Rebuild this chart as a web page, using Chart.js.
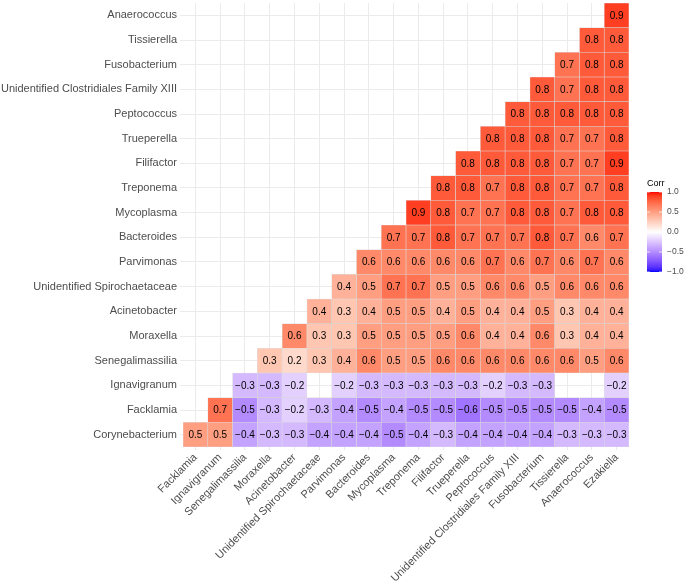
<!DOCTYPE html>
<html>
<head>
<meta charset="utf-8">
<script src="https://cdn.jsdelivr.net/npm/chart.js@4.4.0/dist/chart.umd.min.js"></script>
<style>
  html, body { margin: 0; padding: 0; background: #ffffff; }
  #wrap { width: 684px; height: 584px; }
</style>
</head>
<body>
<div id="wrap"><canvas id="corr_chart" width="684" height="584"></canvas></div>
<script>
// columns (x axis), left to right
const xLabels = ["Facklamia", "Ignavigranum", "Senegalimassilia", "Moraxella", "Acinetobacter",
  "Unidentified Spirochaetaceae", "Parvimonas", "Bacteroides", "Mycoplasma", "Treponema",
  "Filifactor", "Trueperella", "Peptococcus", "Unidentified Clostridiales Family XIII",
  "Fusobacterium", "Tissierella", "Anaerococcus", "Ezakiella"];

// rows (y axis), bottom to top
const yLabels = ["Corynebacterium", "Facklamia", "Ignavigranum", "Senegalimassilia", "Moraxella",
  "Acinetobacter", "Unidentified Spirochaetaceae", "Parvimonas", "Bacteroides", "Mycoplasma",
  "Treponema", "Filifactor", "Trueperella", "Peptococcus", "Unidentified Clostridiales Family XIII",
  "Fusobacterium", "Tissierella", "Anaerococcus"];

const n = null;
// one array per row, one entry per column (null = no tile)
const corynebacterium = [0.5, 0.5, -0.4, -0.3, -0.3, -0.4, -0.4, -0.4, -0.5, -0.4, -0.3, -0.4, -0.4, -0.4, -0.4, -0.3, -0.3, -0.3];
const facklamia = [n, 0.7, -0.5, -0.3, -0.2, -0.3, -0.4, -0.5, -0.4, -0.5, -0.5, -0.6, -0.5, -0.5, -0.5, -0.5, -0.4, -0.5];
const ignavigranum = [n, n, -0.3, -0.3, -0.2, n, -0.2, -0.3, -0.3, -0.3, -0.3, -0.3, -0.2, -0.3, -0.3, n, n, -0.2];
const senegalimassilia = [n, n, n, 0.3, 0.2, 0.3, 0.4, 0.6, 0.5, 0.5, 0.6, 0.6, 0.6, 0.6, 0.6, 0.6, 0.5, 0.6];
const moraxella = [n, n, n, n, 0.6, 0.3, 0.3, 0.5, 0.5, 0.5, 0.5, 0.6, 0.4, 0.4, 0.6, 0.3, 0.4, 0.4];
const acinetobacter = [n, n, n, n, n, 0.4, 0.3, 0.4, 0.5, 0.5, 0.4, 0.5, 0.4, 0.4, 0.5, 0.3, 0.4, 0.4];
const spirochaetaceae = [n, n, n, n, n, n, 0.4, 0.5, 0.7, 0.7, 0.5, 0.5, 0.6, 0.6, 0.5, 0.6, 0.6, 0.6];
const parvimonas = [n, n, n, n, n, n, n, 0.6, 0.6, 0.6, 0.6, 0.6, 0.7, 0.6, 0.7, 0.6, 0.7, 0.6];
const bacteroides = [n, n, n, n, n, n, n, n, 0.7, 0.7, 0.8, 0.7, 0.7, 0.7, 0.8, 0.7, 0.6, 0.7];
const mycoplasma = [n, n, n, n, n, n, n, n, n, 0.9, 0.8, 0.7, 0.7, 0.8, 0.8, 0.7, 0.8, 0.8];
const treponema = [n, n, n, n, n, n, n, n, n, n, 0.8, 0.8, 0.7, 0.8, 0.8, 0.7, 0.7, 0.8];
const filifactor = [n, n, n, n, n, n, n, n, n, n, n, 0.8, 0.8, 0.8, 0.8, 0.7, 0.7, 0.9];
const trueperella = [n, n, n, n, n, n, n, n, n, n, n, n, 0.8, 0.8, 0.8, 0.7, 0.7, 0.8];
const peptococcus = [n, n, n, n, n, n, n, n, n, n, n, n, n, 0.8, 0.8, 0.8, 0.8, 0.8];
const clostridialesXIII = [n, n, n, n, n, n, n, n, n, n, n, n, n, n, 0.8, 0.7, 0.8, 0.8];
const fusobacterium = [n, n, n, n, n, n, n, n, n, n, n, n, n, n, n, 0.7, 0.8, 0.8];
const tissierella = [n, n, n, n, n, n, n, n, n, n, n, n, n, n, n, n, 0.8, 0.8];
const anaerococcus = [n, n, n, n, n, n, n, n, n, n, n, n, n, n, n, n, n, 0.9];

const corrRows = [corynebacterium, facklamia, ignavigranum, senegalimassilia, moraxella,
  acinetobacter, spirochaetaceae, parvimonas, bacteroides, mycoplasma, treponema, filifactor,
  trueperella, peptococcus, clostridialesXIII, fusobacterium, tissierella, anaerococcus];

const legendBreaks = [1.0, 0.5, 0.0, -0.5, -1.0];

const FONT = "'Liberation Sans', Arial, Helvetica, sans-serif";

// ---- colour: blue - white - red, interpolated in CIE Lab like ggplot2 ----
const toLin = (c) => { c /= 255; return c <= 0.04045 ? c / 12.92 : Math.pow((c + 0.055) / 1.055, 2.4); };
const fromLin = (c) => { const v = c <= 0.0031308 ? 12.92 * c : 1.055 * Math.pow(c, 1 / 2.4) - 0.055; return Math.max(0, Math.min(255, Math.round(v * 255))); };
const rgbToLab = ([r, g, b]) => {
  const R = toLin(r), G = toLin(g), B = toLin(b);
  let x = (0.4124 * R + 0.3576 * G + 0.1805 * B) / 0.95047;
  let y = (0.2126 * R + 0.7152 * G + 0.0722 * B);
  let z = (0.0193 * R + 0.1192 * G + 0.9505 * B) / 1.08883;
  const f = (t) => t > 0.008856 ? Math.cbrt(t) : 7.787 * t + 16 / 116;
  x = f(x); y = f(y); z = f(z);
  return [116 * y - 16, 500 * (x - y), 200 * (y - z)];
};
const labToRgb = ([L, a, b]) => {
  const fy = (L + 16) / 116, fx = fy + a / 500, fz = fy - b / 200;
  const g = (t) => t * t * t > 0.008856 ? t * t * t : (t - 16 / 116) / 7.787;
  const x = g(fx) * 0.95047, y = g(fy), z = g(fz) * 1.08883;
  const R = 3.2406 * x - 1.5372 * y - 0.4986 * z;
  const G = -0.9689 * x + 1.8758 * y + 0.0415 * z;
  const B = 0.0557 * x - 0.2040 * y + 1.0570 * z;
  return [fromLin(R), fromLin(G), fromLin(B)];
};
const labWhite = rgbToLab([255, 255, 255]);
const labRed = rgbToLab([255, 0, 0]);
const labBlue = rgbToLab([0, 0, 255]);
const corrColor = (v) => {
  const end = v >= 0 ? labRed : labBlue;
  const t = Math.min(1, Math.abs(v));
  const lab = labWhite.map((w, i) => w + (end[i] - w) * t);
  const [r, g, b] = labToRgb(lab);
  return `rgb(${r},${g},${b})`;
};

const fmt = (v) => v.toFixed(1).replace("-", "\u2212");

// one floating-bar dataset per row: each tile spans [row - 0.5, row + 0.5]
const datasets = corrRows.map((row, r) => ({
  label: yLabels[r],
  data: row.map((v) => (v === null ? null : [r - 0.5, r + 0.5])),
  backgroundColor: (ctx) => {
    const v = corrRows[ctx.datasetIndex][ctx.dataIndex];
    return v === null ? "rgba(0,0,0,0)" : corrColor(v);
  },
  borderColor: "rgba(200,200,200,0.55)",
  borderWidth: 0.6,
  borderSkipped: false,
  barPercentage: 1,
  categoryPercentage: 1,
  grouped: false,
}));

const cellText = {
  id: "cellText",
  afterDatasetsDraw(chart) {
    const ctx = chart.ctx;
    ctx.save();
    ctx.font = `10px ${FONT}`;
    ctx.fillStyle = "#000000";
    ctx.textAlign = "center";
    ctx.textBaseline = "middle";
    chart.data.datasets.forEach((ds, r) => {
      const meta = chart.getDatasetMeta(r);
      meta.data.forEach((el, c) => {
        const v = corrRows[r][c];
        if (v === null) return;
        ctx.fillText(fmt(v), el.x, (el.y + el.base) / 2 + 0.5);
      });
    });
    ctx.restore();
  },
};

const colorBar = {
  id: "colorBar",
  afterDraw(chart) {
    const ctx = chart.ctx;
    const x0 = 647, w = 15, top = 192, bottom = 272;
    ctx.save();
    ctx.font = `9px ${FONT}`;
    ctx.fillStyle = "#000000";
    ctx.textAlign = "left";
    ctx.textBaseline = "alphabetic";
    ctx.fillText("Corr", x0, 186);
    const grad = ctx.createLinearGradient(0, top, 0, bottom);
    for (let i = 0; i <= 40; i++) {
      grad.addColorStop(i / 40, corrColor(1 - i / 20));
    }
    ctx.fillStyle = grad;
    ctx.fillRect(x0, top, w, bottom - top);
    ctx.font = `8.5px ${FONT}`;
    ctx.textBaseline = "middle";
    legendBreaks.forEach((b) => {
      const y = top + (1 - b) / 2 * (bottom - top);
      ctx.strokeStyle = "#ffffff";
      ctx.lineWidth = 0.8;
      ctx.beginPath();
      ctx.moveTo(x0, y); ctx.lineTo(x0 + 3, y);
      ctx.moveTo(x0 + w - 3, y); ctx.lineTo(x0 + w, y);
      ctx.stroke();
      ctx.fillStyle = "#4D4D4D";
      ctx.fillText(fmt(b), x0 + w + 5, y);
    });
    ctx.restore();
  },
};

const cxt = document.getElementById("corr_chart").getContext("2d");
new Chart(cxt, {
  type: "bar",
  data: { labels: xLabels, datasets: datasets },
  plugins: [cellText, colorBar],
  options: {
    responsive: false,
    animation: false,
    layout: { padding: { top: 3, right: 55, left: 0, bottom: 0 } },
    plugins: { legend: { display: false }, tooltip: { enabled: false } },
    scales: {
      x: {
        type: "category",
        offset: true,
        grid: { color: "#EBEBEB", lineWidth: 1, offset: false, tickLength: 3 },
        border: { display: false },
        ticks: {
          autoSkip: false,
          minRotation: 45,
          maxRotation: 45,
          padding: 1,
          color: "#4D4D4D",
          font: { family: FONT, size: 11 },
        },
        afterFit: (scale) => {
          scale.height = 137;
          scale.paddingLeft = 0;
          scale.paddingRight = 0;
        },
      },
      y: {
        type: "linear",
        min: -0.5,
        max: 17.5,
        grid: { color: "#EBEBEB", lineWidth: 1, tickLength: 3 },
        border: { display: false },
        afterBuildTicks: (scale) => { scale.ticks = yLabels.map((_, i) => ({ value: i })); },
        ticks: {
          autoSkip: false,
          padding: 3,
          color: "#4D4D4D",
          font: { family: FONT, size: 11 },
          callback: (value) => yLabels[value],
        },
        afterFit: (scale) => {
          scale.width = 183;
          scale.paddingTop = 0;
          scale.paddingBottom = 0;
        },
      },
    },
  },
});
</script>
</body>
</html>
